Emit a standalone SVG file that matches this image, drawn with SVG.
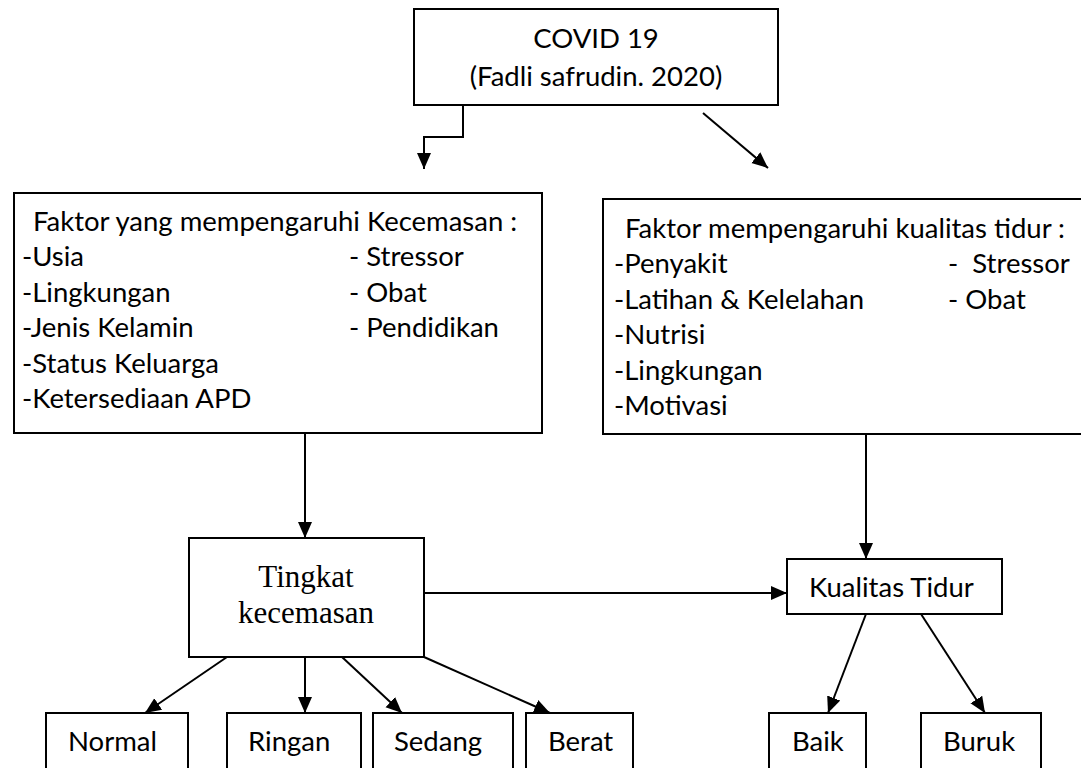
<svg xmlns="http://www.w3.org/2000/svg" width="1081" height="768" viewBox="0 0 1081 768">
<style>
.box{fill:#fff;stroke:#000;stroke-width:2}
.t{font-family:Lato,"Liberation Sans",sans-serif;font-size:27.5px;fill:#000}
.s{font-family:"Liberation Serif",serif;font-size:31px;fill:#000}
.c{stroke:#000;stroke-width:2;fill:none}
</style>
<defs>
<marker id="ah" markerUnits="userSpaceOnUse" markerWidth="16" markerHeight="16" viewBox="0 0 16 16" refX="16" refY="8" orient="auto">
<path d="M0,1 L16,8 L0,15 Z" fill="#000"/>
</marker>
</defs>
<rect width="1081" height="768" fill="#fff"/>
<g id="connectors">
<path class="c" d="M463,105 V137 H424 V169" marker-end="url(#ah)"/>
<path class="c" d="M703,113 L768,168" marker-end="url(#ah)"/>
<path class="c" d="M305,433 V538" marker-end="url(#ah)"/>
<path class="c" d="M866,434 V559" marker-end="url(#ah)"/>
<path class="c" d="M425,593 H787" marker-end="url(#ah)"/>
<path class="c" d="M227,657 L145,713" marker-end="url(#ah)"/>
<path class="c" d="M305,657 V713" marker-end="url(#ah)"/>
<path class="c" d="M342,657 L402,713" marker-end="url(#ah)"/>
<path class="c" d="M424,657 L550,713" marker-end="url(#ah)"/>
<path class="c" d="M866,614 L828,713" marker-end="url(#ah)"/>
<path class="c" d="M921,614 L985,713" marker-end="url(#ah)"/>
</g>
<g id="covid">
<rect class="box" x="414" y="9" width="364" height="96"/>
<text class="t" x="596" y="48" text-anchor="middle">COVID 19</text>
<text class="t" x="596" y="86" text-anchor="middle">(Fadli safrudin. 2020)</text>
</g>
<g id="faktor-kecemasan">
<rect class="box" x="14" y="193" width="528" height="240"/>
<text class="t" x="33" y="231">Faktor yang mempengaruhi Kecemasan :</text>
<text class="t" x="22" y="266">-Usia</text>
<text class="t" x="22" y="302">-Lingkungan</text>
<text class="t" x="22" y="337">-Jenis Kelamin</text>
<text class="t" x="22" y="373">-Status Keluarga</text>
<text class="t" x="22" y="408">-Ketersediaan APD</text>
<text class="t" x="349" y="266">- Stressor</text>
<text class="t" x="349" y="302">- Obat</text>
<text class="t" x="349" y="337">- Pendidikan</text>
</g>
<g id="faktor-tidur">
<rect class="box" x="603" y="199" width="500" height="235"/>
<text class="t" x="625" y="238">Faktor mempengaruhi kualitas tidur :</text>
<text class="t" x="614" y="273">-Penyakit</text>
<text class="t" x="614" y="309">-Latihan &amp; Kelelahan</text>
<text class="t" x="614" y="344">-Nutrisi</text>
<text class="t" x="614" y="380">-Lingkungan</text>
<text class="t" x="614" y="415">-Motivasi</text>
<text class="t" x="948" y="273" xml:space="preserve">-  Stressor</text>
<text class="t" x="948" y="309">- Obat</text>
</g>
<g id="tingkat">
<rect class="box" x="189" y="538" width="235" height="119"/>
<text class="s" x="306" y="587" text-anchor="middle">Tingkat</text>
<text class="s" x="306" y="623" text-anchor="middle">kecemasan</text>
</g>
<g id="kualitas">
<rect class="box" x="787" y="559" width="215" height="55"/>
<text class="t" x="809" y="597">Kualitas Tidur</text>
</g>
<g id="normal"><rect class="box" x="46" y="713" width="142" height="70"/><text class="t" x="68" y="751">Normal</text></g>
<g id="ringan"><rect class="box" x="227" y="713" width="134" height="70"/><text class="t" x="248" y="751">Ringan</text></g>
<g id="sedang"><rect class="box" x="373" y="713" width="140" height="70"/><text class="t" x="394" y="751">Sedang</text></g>
<g id="berat"><rect class="box" x="526" y="713" width="107" height="70"/><text class="t" x="548" y="751">Berat</text></g>
<g id="baik"><rect class="box" x="769" y="713" width="97" height="70"/><text class="t" x="792" y="751">Baik</text></g>
<g id="buruk"><rect class="box" x="921" y="713" width="120" height="70"/><text class="t" x="943" y="751">Buruk</text></g>
</svg>
